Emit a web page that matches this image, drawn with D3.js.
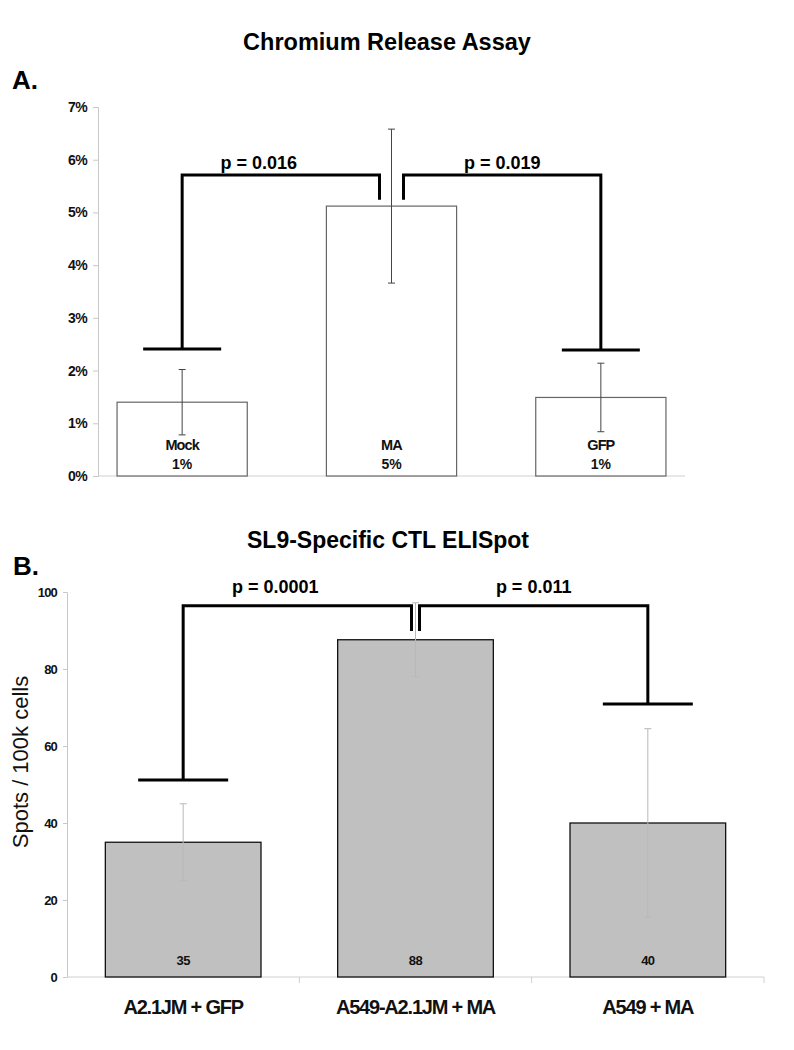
<!DOCTYPE html>
<html><head><meta charset="utf-8">
<script src="https://cdn.jsdelivr.net/npm/d3@7"></script>
<style>body{margin:0;background:#fff}svg{display:block;font-family:"Liberation Sans",Arial,sans-serif}</style>
</head><body><svg id="c" width="794" height="1050"></svg>
<script>
// Panel A data
const catsA = ["Mock", "MA", "GFP"];
const valsA = [0.0140, 0.0512, 0.0149];
const errA = [0.0062, 0.0146, 0.0065];
const ticksA = [0, 0.01, 0.02, 0.03, 0.04, 0.05, 0.06, 0.07];
const bracketsA = [
  {from: 0, to: 1, top: 0.0571, fromEnd: 0.0241, toEnd: 0.0524, p: "p = 0.016"},
  {from: 1, to: 2, top: 0.0571, fromEnd: 0.0524, toEnd: 0.0239, p: "p = 0.019"}
];
// Panel B data
const catsB = ["A2.1JM + GFP", "A549-A2.1JM + MA", "A549 + MA"];
const valsB = [35, 87.6, 40];
const errB = [10, 9.6, 24.5];
const ticksB = [0, 20, 40, 60, 80, 100];
const bracketsB = [
  {from: 0, to: 1, top: 96.4, fromEnd: 51.2, toEnd: 89.9, p: "p = 0.0001"},
  {from: 1, to: 2, top: 96.4, fromEnd: 89.9, toEnd: 70.9, p: "p = 0.011"}
];

const svg = d3.select("#c");

// ---------- Panel A ----------
const xA = d3.scaleBand().domain(catsA).range([98, 685]).paddingInner(0.378).paddingOuter(0.091);
const yA = d3.scaleLinear().domain([0, 0.07]).range([476, 107]);

svg.append("text").attr("x", 387).attr("y", 50).attr("text-anchor", "middle")
  .attr("font-size", 23.5).attr("font-weight", "bold").text("Chromium Release Assay");
svg.append("text").attr("x", 12).attr("y", 89).attr("font-size", 26).attr("font-weight", "bold").text("A.");

const axA = svg.append("g").attr("transform", "translate(98,0)")
  .call(d3.axisLeft(yA).tickValues(ticksA).tickFormat(d3.format(".0%")).tickSize(5).tickPadding(6));
axA.select(".domain").attr("stroke", "#c8c8c8");
axA.selectAll(".tick line").attr("stroke", "#c8c8c8");
axA.selectAll(".tick text").attr("font-size", 14).attr("font-weight", "bold").attr("letter-spacing", -0.6)
  .attr("font-family", "Liberation Sans, Arial, sans-serif").attr("fill", "#111");
svg.append("line").attr("x1", 98).attr("x2", 685).attr("y1", yA(0)).attr("y2", yA(0)).attr("stroke", "#d0d0d0");

svg.append("g").selectAll("rect").data(valsA).join("rect")
  .attr("x", (d, i) => xA(catsA[i])).attr("width", xA.bandwidth())
  .attr("y", d => yA(d)).attr("height", d => yA(0) - yA(d))
  .attr("fill", "#fff").attr("stroke", "#666").attr("stroke-width", 1.2);

const ebA = svg.append("g").attr("stroke", "#444").attr("stroke-width", 1);
valsA.forEach((v, i) => {
  const cx = xA(catsA[i]) + xA.bandwidth() / 2;
  ebA.append("line").attr("x1", cx).attr("x2", cx).attr("y1", yA(v + errA[i])).attr("y2", yA(v - errA[i]));
  [v + errA[i], v - errA[i]].forEach(e => ebA.append("line").attr("x1", cx - 3.5).attr("x2", cx + 3.5).attr("y1", yA(e)).attr("y2", yA(e)));
  svg.append("text").attr("x", cx).attr("y", 450).attr("text-anchor", "middle").attr("font-size", 14.5)
    .attr("font-weight", "bold").attr("letter-spacing", -0.9).attr("fill", "#111").text(catsA[i]);
  svg.append("text").attr("x", cx).attr("y", 469).attr("text-anchor", "middle").attr("font-size", 14)
    .attr("font-weight", "bold").attr("fill", "#111").text(d3.format(".0%")(v));
});

function drawBrackets(brs, x, y, legOff, capW, labelY) {
  const g = svg.append("g").attr("fill", "none").attr("stroke", "#000").attr("stroke-width", 3);
  brs.forEach((b, k) => {
    const c1 = x(x.domain()[b.from]) + x.bandwidth() / 2;
    const c2 = x(x.domain()[b.to]) + x.bandwidth() / 2;
    const x1 = k === 0 ? c1 : c1 + legOff;
    const x2 = k === 0 ? c2 - legOff : c2;
    g.append("path").attr("d", `M${x1},${y(b.fromEnd)}V${y(b.top)}H${x2}V${y(b.toEnd)}`);
    const capEnd = k === 0 ? b.fromEnd : b.toEnd;
    const capX = k === 0 ? c1 : c2;
    g.append("line").attr("x1", capX - capW / 2).attr("x2", capX + capW / 2).attr("y1", y(capEnd)).attr("y2", y(capEnd));
    svg.append("text").attr("x", (x1 + x2) / 2 + (k === 0 ? -22 : 0)).attr("y", labelY).attr("text-anchor", "middle")
      .attr("font-size", 18).attr("font-weight", "bold").text(b.p);
  });
}
drawBrackets(bracketsA, xA, yA, 12, 78, 169);

// ---------- Panel B ----------
const xB = d3.scaleBand().domain(catsB).range([67, 764]).paddingInner(0.33).paddingOuter(0.165);
const yB = d3.scaleLinear().domain([0, 100]).range([977, 592]);

svg.append("text").attr("x", 388).attr("y", 548).attr("text-anchor", "middle")
  .attr("font-size", 23).attr("font-weight", "bold").text("SL9-Specific CTL ELISpot");
svg.append("text").attr("x", 13).attr("y", 575).attr("font-size", 26).attr("font-weight", "bold").text("B.");

const axB = svg.append("g").attr("transform", "translate(67,0)")
  .call(d3.axisLeft(yB).tickValues(ticksB).tickSize(4).tickPadding(6));
axB.select(".domain").attr("stroke", "#c8c8c8");
axB.selectAll(".tick line").attr("stroke", "#c8c8c8");
axB.selectAll(".tick text").attr("font-size", 13).attr("font-weight", "bold").attr("letter-spacing", -0.8)
  .attr("font-family", "Liberation Sans, Arial, sans-serif").attr("fill", "#111");

const axBx = svg.append("g").attr("transform", `translate(0,${yB(0)})`);
axBx.append("line").attr("x1", 67).attr("x2", 764).attr("stroke", "#d0d0d0");
catsB.slice(1).forEach(c => {
  const bx = xB(c) - xB.step() * xB.paddingInner() / 2;
  axBx.append("line").attr("x1", bx).attr("x2", bx).attr("y1", 0).attr("y2", 6).attr("stroke", "#d0d0d0");
});
axBx.append("line").attr("x1", 764).attr("x2", 764).attr("y1", 0).attr("y2", 6).attr("stroke", "#d0d0d0");

svg.append("g").selectAll("rect").data(valsB).join("rect")
  .attr("x", (d, i) => xB(catsB[i])).attr("width", xB.bandwidth())
  .attr("y", d => yB(d)).attr("height", d => yB(0) - yB(d))
  .attr("fill", "#c0c0c0").attr("stroke", "#111").attr("stroke-width", 1.3);

const ebB = svg.append("g").attr("stroke", "#b8b8b8").attr("stroke-width", 1);
valsB.forEach((v, i) => {
  const cx = xB(catsB[i]) + xB.bandwidth() / 2;
  ebB.append("line").attr("x1", cx).attr("x2", cx).attr("y1", yB(v + errB[i])).attr("y2", yB(v - errB[i]));
  [v + errB[i], v - errB[i]].forEach(e => ebB.append("line").attr("x1", cx - 3.5).attr("x2", cx + 3.5).attr("y1", yB(e)).attr("y2", yB(e)));
  svg.append("text").attr("x", cx).attr("y", 965).attr("text-anchor", "middle").attr("font-size", 13)
    .attr("font-weight", "bold").attr("letter-spacing", -0.6).attr("fill", "#111").text(d3.format(".0f")(v));
  svg.append("text").attr("x", cx).attr("y", 1014).attr("text-anchor", "middle").attr("font-size", 20)
    .attr("font-weight", "bold").attr("letter-spacing", -1.2).attr("fill", "#111").text(catsB[i]);
});

drawBrackets(bracketsB, xB, yB, 4, 90, 593);

svg.append("text").attr("transform", "translate(28,762) rotate(-90)").attr("text-anchor", "middle")
  .attr("font-size", 22).attr("fill", "#111").text("Spots / 100k cells");
</script></body></html>
